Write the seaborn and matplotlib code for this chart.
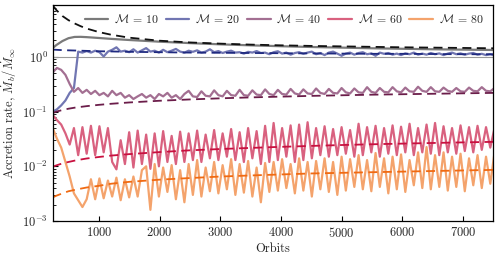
import numpy as np
import pandas as pd
import matplotlib
matplotlib.use("Agg")
import matplotlib.pyplot as plt
import seaborn as sns

# ---------------- data ----------------
# orbit sampling of the simulation curves
orbits = [240 + 70 * i for i in range(105)]

m20 = [0.10, 0.11, 0.13, 0.16, 0.22, 0.27, 1.25, 1.20, 1.28, 1.20,
       1.30, 1.22, 1.02, 1.25, 1.35, 1.50, 1.25, 1.30, 1.22, 1.38,
       1.20, 1.32, 1.45, 1.25, 1.30, 1.20, 1.35, 1.22, 1.30, 1.40,
       1.25, 1.20, 1.30, 1.24, 1.32, 1.20, 1.25, 1.38, 1.22, 1.28,
       1.18, 1.25, 1.30, 1.20, 1.22, 1.15, 1.24, 1.20, 1.28, 1.18,
       1.20, 1.12, 1.22, 1.27, 1.15, 1.20, 1.10, 1.18, 1.22, 1.14,
       1.20, 1.25, 1.12, 1.18, 1.08, 1.20, 1.25, 1.15, 1.05, 1.15,
       1.20, 1.10, 1.18, 1.22, 1.12, 1.16, 1.05, 1.20, 1.14, 1.18,
       1.10, 1.15, 1.08, 1.16, 1.12, 1.20, 1.10, 1.15, 1.10, 1.18,
       1.12, 1.16, 1.08, 1.15, 1.20, 1.12, 1.16, 1.10, 1.15, 1.18,
       1.10, 1.14, 1.08, 1.12, 1.06]

m40 = [0.52, 0.63, 0.58, 0.47, 0.32, 0.23, 0.27, 0.22, 0.25, 0.21,
       0.24, 0.20, 0.22, 0.19, 0.24, 0.20, 0.22, 0.18, 0.20, 0.17,
       0.19, 0.21, 0.18, 0.20, 0.17, 0.21, 0.19, 0.22, 0.18, 0.20,
       0.17, 0.21, 0.24, 0.19, 0.185, 0.235, 0.195, 0.19, 0.245, 0.20,
       0.19, 0.24, 0.20, 0.195, 0.25, 0.20, 0.195, 0.245, 0.205, 0.20,
       0.255, 0.21, 0.20, 0.25, 0.21, 0.205, 0.26, 0.215, 0.205, 0.255,
       0.215, 0.21, 0.265, 0.22, 0.21, 0.26, 0.22, 0.215, 0.27, 0.225,
       0.215, 0.265, 0.225, 0.22, 0.28, 0.23, 0.22, 0.27, 0.23, 0.225,
       0.28, 0.235, 0.225, 0.275, 0.235, 0.23, 0.285, 0.24, 0.23, 0.28,
       0.235, 0.23, 0.275, 0.24, 0.23, 0.27, 0.235, 0.23, 0.275, 0.24,
       0.235, 0.28, 0.24, 0.235, 0.27]

m60 = [0.087, 0.070, 0.058, 0.040, 0.025, 0.050, 0.016, 0.052, 0.017, 0.055,
       0.016, 0.054, 0.018, 0.050, 0.012, 0.0088, 0.030, 0.011, 0.042, 0.0095,
       0.045, 0.011, 0.038, 0.009, 0.040, 0.010, 0.044, 0.012, 0.036, 0.011,
       0.043, 0.012, 0.040, 0.013, 0.045, 0.012, 0.038, 0.014, 0.046, 0.013,
       0.040, 0.015, 0.048, 0.013, 0.042, 0.012, 0.050, 0.014, 0.044, 0.011,
       0.055, 0.012, 0.062, 0.013, 0.050, 0.015, 0.056, 0.012, 0.058, 0.013,
       0.064, 0.014, 0.050, 0.016, 0.054, 0.015, 0.048, 0.016, 0.052, 0.017,
       0.046, 0.015, 0.060, 0.016, 0.052, 0.018, 0.055, 0.015, 0.050, 0.017,
       0.056, 0.016, 0.053, 0.018, 0.060, 0.016, 0.050, 0.018, 0.058, 0.017,
       0.062, 0.016, 0.054, 0.018, 0.050, 0.017, 0.056, 0.019, 0.052, 0.018,
       0.055, 0.020, 0.052, 0.022, 0.050]

m80 = [0.050, 0.032, 0.022, 0.012, 0.0065, 0.0032, 0.0024, 0.0018, 0.0025, 0.0058,
       0.0025, 0.0060, 0.0026, 0.0055, 0.0028, 0.0062, 0.0024, 0.0058, 0.0027, 0.0065,
       0.0028, 0.0085, 0.0100, 0.0016, 0.0110, 0.0028, 0.0095, 0.0034, 0.0105, 0.0025,
       0.0085, 0.0022, 0.0110, 0.0030, 0.0130, 0.0028, 0.0095, 0.0035, 0.0120, 0.0032,
       0.0105, 0.0038, 0.0135, 0.0030, 0.0110, 0.0033, 0.0125, 0.0028, 0.0095, 0.0022,
       0.0115, 0.0034, 0.0120, 0.0036, 0.0135, 0.0040, 0.0110, 0.0032, 0.0140, 0.0036,
       0.0120, 0.0028, 0.0125, 0.0038, 0.0140, 0.0034, 0.0120, 0.0030, 0.0150, 0.0036,
       0.0135, 0.0042, 0.0160, 0.0038, 0.0130, 0.0035, 0.0175, 0.0042, 0.0140, 0.0032,
       0.0150, 0.0038, 0.0165, 0.0034, 0.0130, 0.0045, 0.0180, 0.0040, 0.0225, 0.0038,
       0.0160, 0.0042, 0.0180, 0.0036, 0.0150, 0.0042, 0.0170, 0.0035, 0.0140, 0.0045,
       0.0160, 0.0040, 0.0150, 0.0048, 0.0180]

# smooth curves (M = 10 simulation and analytic estimates)
smooth_orbits = [240, 300, 400, 500, 600, 700, 800, 1000, 1200, 1500, 2000,
                 2500, 3000, 3500, 4000, 4500, 5000, 5500, 6000, 6500, 7000, 7500]
m10 = [1.45, 1.65, 1.95, 2.20, 2.32, 2.33, 2.30, 2.22, 2.14, 2.04, 1.90,
       1.79, 1.70, 1.63, 1.57, 1.52, 1.48, 1.44, 1.41, 1.38, 1.36, 1.34]
est10 = [8.8, 7.2, 5.6, 4.7, 4.1, 3.65, 3.3, 2.85, 2.55, 2.25, 1.98,
         1.84, 1.75, 1.68, 1.63, 1.59, 1.56, 1.53, 1.50, 1.48, 1.46, 1.44]
est20 = [1.36, 1.35, 1.33, 1.32, 1.31, 1.30, 1.29, 1.27, 1.26, 1.24, 1.22,
         1.20, 1.19, 1.18, 1.17, 1.16, 1.15, 1.14, 1.14, 1.13, 1.12, 1.12]
est40 = [0.094, 0.100, 0.107, 0.113, 0.118, 0.122, 0.126, 0.133, 0.139, 0.147, 0.158,
         0.167, 0.175, 0.182, 0.188, 0.194, 0.199, 0.204, 0.208, 0.212, 0.216, 0.220]
est60 = [0.0098, 0.0104, 0.0113, 0.0120, 0.0127, 0.0133, 0.0139, 0.0148, 0.0157, 0.0167, 0.0182,
         0.0196, 0.0207, 0.0217, 0.0227, 0.0236, 0.0245, 0.0253, 0.0260, 0.0267, 0.0274, 0.0280]
est80 = [0.0027, 0.0029, 0.0032, 0.0035, 0.0037, 0.0039, 0.0041, 0.0044, 0.0048, 0.0052, 0.0057,
         0.0061, 0.0065, 0.0068, 0.0071, 0.0074, 0.0076, 0.0078, 0.0080, 0.0082, 0.0084, 0.0086]

labels = [r"$\mathcal{M}$ = 10", r"$\mathcal{M}$ = 20", r"$\mathcal{M}$ = 40",
          r"$\mathcal{M}$ = 60", r"$\mathcal{M}$ = 80"]

# ---------------- style ----------------
sns.set_theme(style="white")
plt.rcParams["font.family"] = ["cmr10", "DejaVu Serif"]
plt.rcParams["mathtext.fontset"] = "cm"
plt.rcParams["axes.unicode_minus"] = False
plt.rcParams["axes.formatter.use_mathtext"] = True

solid_colors = ["#7a7a7a", "#7176b2", "#a36f92", "#d9617f", "#f4a36c"]
dash_colors = ["#111111", "#1f2a80", "#6b1d4a", "#c8103f", "#f06a12"]
FS = 9

fig = plt.figure(figsize=(4.99, 2.59), dpi=100)
ax = fig.add_axes([0.1056, 0.1467, 0.883, 0.835])

ax.axhline(1.0, color="#999999", lw=0.8, zorder=1)

sim_df = pd.DataFrame({"orbit": orbits, "m20": m20, "m40": m40, "m60": m60, "m80": m80})
smooth_df = pd.DataFrame({"orbit": smooth_orbits, "m10": m10, "e10": est10, "e20": est20,
                          "e40": est40, "e60": est60, "e80": est80})

# solid simulation curves
sns.lineplot(data=smooth_df, x="orbit", y="m10", ax=ax, color=solid_colors[0], lw=1.6,
             label=labels[0], estimator=None, sort=False, solid_joinstyle="round")
for key, col, lab in zip(["m20", "m40", "m60", "m80"], solid_colors[1:], labels[1:]):
    sns.lineplot(data=sim_df, x="orbit", y=key, ax=ax, color=col, lw=1.6,
                 label=lab, estimator=None, sort=False, solid_joinstyle="round")

# dashed estimates
for key, col in zip(["e10", "e20", "e40", "e60", "e80"], dash_colors):
    sns.lineplot(data=smooth_df, x="orbit", y=key, ax=ax, color=col, lw=1.3,
                 linestyle=(0, (5, 3)), estimator=None, sort=False, legend=False)

ax.set_yscale("log")
ax.set_xlim(240, 7500)
ax.set_ylim(1e-3, 9)
ax.set_xticks([1000, 2000, 3000, 4000, 5000, 6000, 7000])
ax.set_xlabel("Orbits", fontsize=FS, labelpad=2)
ax.set_ylabel(r"Accretion rate, $\dot{M}_b/\dot{M}_\infty$", fontsize=FS, labelpad=2)
ax.tick_params(axis="both", which="both", direction="in", labelsize=FS, color="black")
ax.tick_params(axis="both", which="major", length=3.5, width=0.8)
ax.tick_params(axis="y", which="minor", length=2, width=0.6, left=True)
ax.tick_params(axis="both", left=True, bottom=True)
for s in ax.spines.values():
    s.set_color("black")
    s.set_linewidth(0.9)

leg = ax.legend(loc="upper center", bbox_to_anchor=(0.525, 1.0), ncol=5, frameon=False,
                fontsize=8.5, handlelength=2.0, handletextpad=0.5, columnspacing=0.6,
                borderaxespad=0.3)

fig.savefig("out.png", dpi=100)
